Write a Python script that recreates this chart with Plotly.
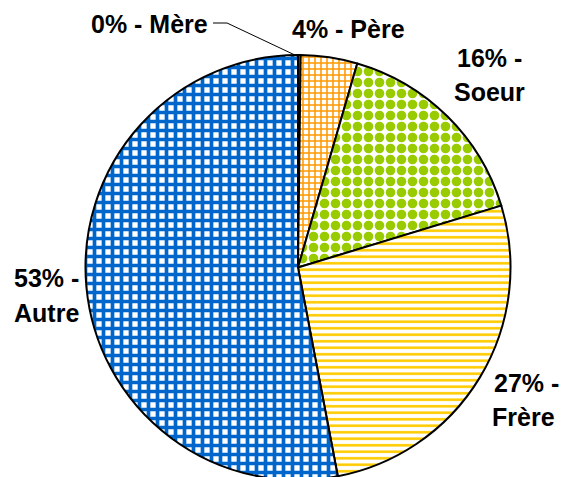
import plotly.graph_objects as go

# ---- data ----
categories = ["Mère", "Père", "Soeur", "Frère", "Autre"]
values = [0.2, 4.3, 15.8, 26.7, 53.0]
fg_colors = ["#6FA8E8", "#FF9900", "#99CC00", "#FFCC00", "#0066CC"]
pattern_shapes = ["+", "+", ".", "-", "+"]

W, H = 561, 480


def px(x):
    return x / W


def py(y):
    return (H - y) / H


pct = [f"{round(v)}%" for v in values]

fig = go.Figure(
    go.Pie(
        labels=categories,
        values=values,
        sort=False,
        direction="clockwise",
        rotation=0,
        textinfo="none",
        hoverinfo="label+percent",
        showlegend=False,
        marker=dict(
            colors=["white"] * len(values),
            line=dict(color="black", width=2),
            pattern=dict(
                shape=pattern_shapes,
                fgcolor=fg_colors,
                bgcolor=["white"] * len(values),
                size=[8, 6, 11, 6.5, 9],
                solidity=[0.5, 0.45, 0.6, 0.4, 0.65],
                fillmode="replace",
            ),
        ),
        domain=dict(x=[px(298 - 240), px(298 + 240)], y=[0, py(55)]),
    )
)

font = dict(family="Liberation Sans, Arial, sans-serif", size=25, color="black")


def ann(text, x, y, xanchor="center"):
    fig.add_annotation(
        text=f"<b>{text}</b>", x=px(x), y=py(y), xref="paper", yref="paper",
        xanchor=xanchor, yanchor="middle", showarrow=False, font=font,
    )


ann(f"{pct[0]} - {categories[0]}", 210, 24, "right")
ann(f"{pct[1]} - {categories[1]}", 348, 29)
ann(f"{pct[2]} -", 489, 58)
ann(categories[2], 489, 92)
ann(f"{pct[3]} -", 492, 383, "left")
ann(categories[3], 490, 417, "left")
ann(f"{pct[4]} -", 12, 278, "left")
ann(categories[4], 12, 313, "left")

# leader line for the Mère label
fig.add_shape(
    type="path", xref="paper", yref="paper",
    path=f"M {px(213)},{py(23)} L {px(227)},{py(23)} L {px(297)},{py(56)}",
    line=dict(color="black", width=1),
)

fig.update_layout(
    width=W, height=H,
    margin=dict(l=0, r=0, t=0, b=0),
    paper_bgcolor="white", plot_bgcolor="white",
)

fig.write_html(
    "out.html",
    config={"displayModeBar": False},
    post_script="document.body.style.margin='0';document.body.style.overflow='hidden';document.documentElement.style.overflow='hidden';",
)
